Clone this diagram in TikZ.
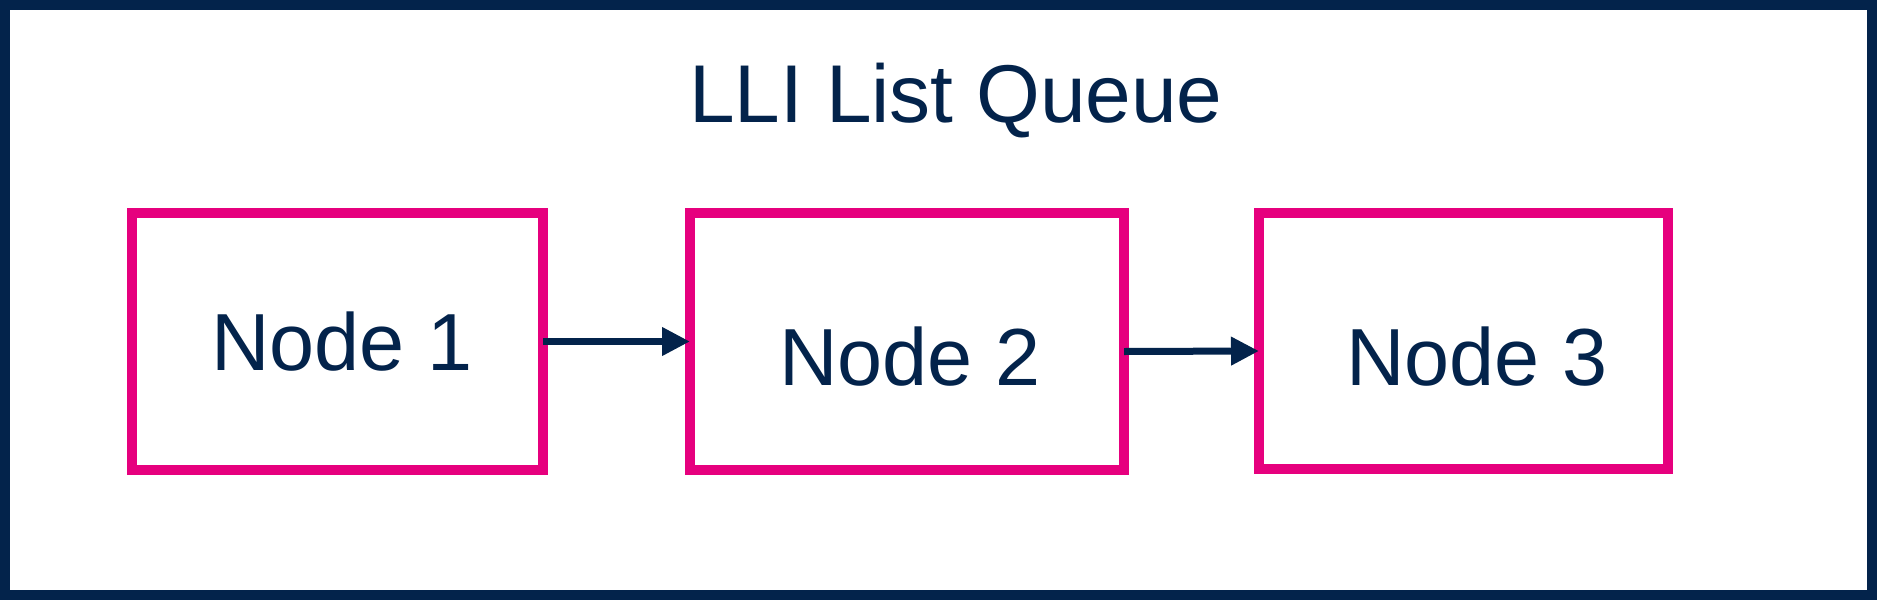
\documentclass[tikz,border=0pt]{standalone}
\usepackage{fontspec}
\setmainfont{Liberation Sans}
\usepackage{tikz}
\usetikzlibrary{positioning, arrows.meta}
\definecolor{stnavy}{RGB}{3, 35, 75}
\definecolor{stpink}{RGB}{230, 0, 126}

\begin{document}
\begin{tikzpicture}[x=1pt, y=-1pt,
        llibox/.style={draw=stpink, line width=10pt, inner sep=0pt, outer sep=0pt},
        llitext/.style={text=stnavy, anchor=base, inner sep=0pt,
                        font=\fontsize{81}{97}\selectfont},
        llilink/.style={draw=stnavy, line width=7pt,
                        -{Triangle[length=28pt, width=27pt]}}]
        \useasboundingbox (0,0) rectangle (1877,600);
        % outer frame
        \draw[stnavy, line width=10pt] (5,5) rectangle (1872,595);
        \node[llitext, font=\fontsize{82}{98}\selectfont] (title) at (956,122) {LLI List Queue};
        % list items
        \node[llibox, minimum width=411pt, minimum height=257pt] (n1) at (337.5,341.5) {};
        \node[llibox, minimum width=434pt, minimum height=257pt] (n2) at (907,341.5) {};
        \node[llibox, minimum width=409pt, minimum height=256pt] (n3) at (1463.5,341) {};
        \node[llitext] (n1text) at (342,370) {Node 1};
        \node[llitext] (n2text) at (910,385) {Node 2};
        \node[llitext] (n3text) at (1477,385) {Node 3};
        % links
        \draw[llilink] (n1.east) -- (n2.west);
        \draw[llilink] ([yshift=-10pt]n2.east) -- ([yshift=-10pt]n3.west);
    \end{tikzpicture}
\end{document}
